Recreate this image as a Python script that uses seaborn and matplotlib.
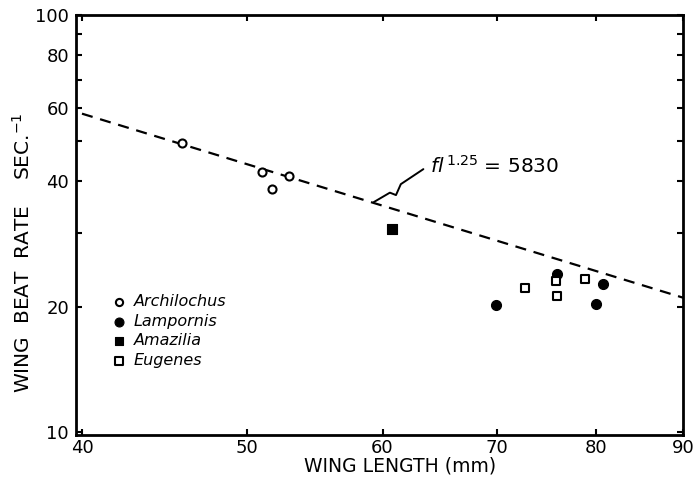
import matplotlib
matplotlib.use("Agg")
import matplotlib.pyplot as plt
import matplotlib.ticker as mticker
import seaborn as sns
import pandas as pd

# ---- data ----
archilochus_len = [45.8, 51.0, 52.9, 51.7]
archilochus_rate = [49.3, 42.0, 41.1, 38.3]
lampornis_len = [69.9, 75.9, 80.8, 80.0]
lampornis_rate = [20.2, 23.9, 22.6, 20.3]
amazilia_len = [60.8]
amazilia_rate = [30.7]
eugenes_len = [72.7, 75.8, 75.9, 78.8]
eugenes_rate = [22.1, 23.0, 21.2, 23.3]

fit_len = [40.0, 90.0]
fit_rate = [58.0, 21.0]

x_ticks = [40, 50, 60, 70, 80, 90]
y_major = [10, 20, 40, 60, 80, 100]
y_minor = [30, 50, 70, 90]

sns.set_style("ticks")
plt.rcParams["font.family"] = ["DejaVu Sans"]
plt.rcParams["mathtext.fontset"] = "dejavusans"
plt.rcParams["text.color"] = "black"
plt.rcParams["axes.labelcolor"] = "black"

fig = plt.figure(figsize=(6.95, 4.79), dpi=100)
ax = fig.add_axes([0.1094, 0.0919, 0.8734, 0.8768])

fit_df = pd.DataFrame({"len": fit_len, "rate": fit_rate})
sns.lineplot(data=fit_df, x="len", y="rate", ax=ax, color="black",
             linewidth=1.6, linestyle=(0, (5, 3.5)))

groups = [
    ("Archilochus", archilochus_len, archilochus_rate, "o", "white", 5.8, 1.5),
    ("Lampornis", lampornis_len, lampornis_rate, "o", "black", 7.2, 0.8),
    ("Amazilia", amazilia_len, amazilia_rate, "s", "black", 6.5, 0.8),
    ("Eugenes", eugenes_len, eugenes_rate, "s", "white", 6.2, 1.5),
]
handles = []
for name, xs, ys, mk, fc, sz, ew in groups:
    df = pd.DataFrame({"len": xs, "rate": ys})
    sns.scatterplot(data=df, x="len", y="rate", ax=ax, marker=mk,
                    s=sz ** 2, facecolor=fc, edgecolor="black",
                    linewidth=ew, zorder=3)
    h = ax.scatter([], [], marker=mk, s=sz ** 2 * 0.8, facecolor=fc,
                   edgecolor="black", linewidth=ew, label=name)
    handles.append(h)

ax.set_xscale("log")
ax.set_yscale("log")
ax.set_xlim(39.68, 90)
ax.set_ylim(9.84, 100)

ax.xaxis.set_major_locator(mticker.FixedLocator(x_ticks))
ax.xaxis.set_major_formatter(mticker.FixedFormatter([str(v) for v in x_ticks]))
ax.xaxis.set_minor_locator(mticker.NullLocator())
ax.yaxis.set_major_locator(mticker.FixedLocator(y_major))
ax.yaxis.set_major_formatter(mticker.FixedFormatter([str(v) for v in y_major]))
ax.yaxis.set_minor_locator(mticker.FixedLocator(y_minor))
ax.yaxis.set_minor_formatter(mticker.NullFormatter())

ax.tick_params(which="both", direction="in", top=True, right=True,
               length=4.5, width=1.5, color="black", labelsize=13,
               labelcolor="black")
ax.tick_params(axis="y", which="both", pad=5)
ax.tick_params(axis="x", which="both", pad=3)
for sp in ax.spines.values():
    sp.set_linewidth(2)
    sp.set_color("black")

ax.set_xlabel("WING LENGTH (mm)", fontsize=13.5, color="black")
ax.xaxis.set_label_coords(0.534, -0.052)
ax.set_ylabel("WING  BEAT  RATE    SEC.$^{-1}$", fontsize=14.5, color="black")
ax.yaxis.set_label_coords(-0.07, 0.434)

# annotation of the fitted line
leader_x = [59.3, 60.6, 61.1, 61.5, 63.4]
leader_y = [35.6, 37.5, 37.0, 39.3, 42.7]
ax.plot(leader_x, leader_y, color="black", linewidth=1.4)
ax.text(64.0, 41.8, r"$fl^{\,1.25}$ = 5830", fontsize=14.5,
        ha="left", va="baseline", color="black")

leg = ax.legend(handles=handles, loc="upper left",
                bbox_to_anchor=(0.045, 0.35), frameon=False,
                fontsize=11.5, handletextpad=0.3, labelspacing=0.28,
                borderaxespad=0, handlelength=1.2)
for t in leg.get_texts():
    t.set_fontstyle("italic")
    t.set_color("black")

fig.savefig("out.png", dpi=100, facecolor="white")
